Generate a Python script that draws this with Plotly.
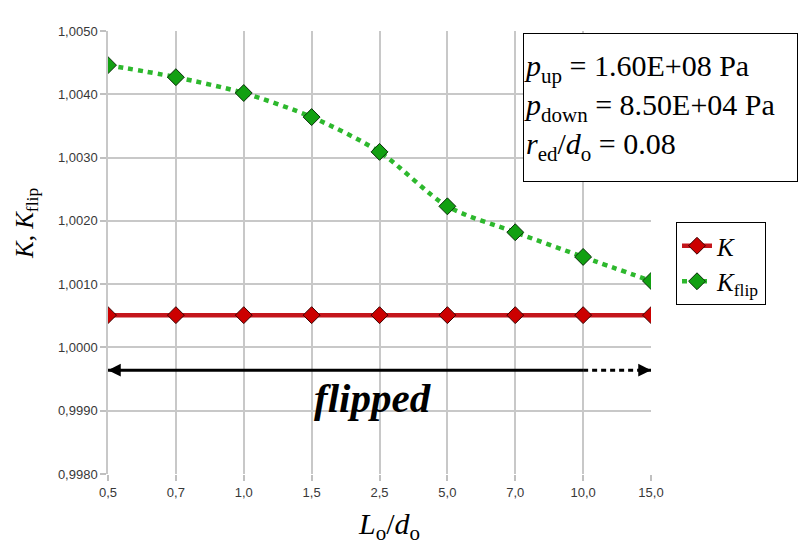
import plotly.graph_objects as go

categories = ["0,5", "0,7", "1,0", "1,5", "2,5", "5,0", "7,0", "10,0", "15,0"]
k_values = [1.00051, 1.00051, 1.00051, 1.00051, 1.00051, 1.00051, 1.00051, 1.00051, 1.00051]
kflip_values = [1.00446, 1.00427, 1.00402, 1.00364, 1.00309, 1.00223, 1.00182, 1.00143, 1.00105]
flipped_level = 0.99964
flipped_solid_x = ["0,5", "10,0"]
flipped_dotted_x = ["10,0", "15,0"]
y_ticks = [0.998, 0.999, 1.000, 1.001, 1.002, 1.003, 1.004, 1.005]

SERIF = "Liberation Serif, Times New Roman, serif"
SANS = "Liberation Sans, Arial, sans-serif"

# page body adds an 8px offset; figure is sized to fit the window
OFF = 8
W, H = 799, 541
L, R, T, B = 100, 156, 23, 75
PW, PH = W - L - R, H - T - B


def px(xr):
    return (xr - OFF - L) / PW


def py(yr):
    return (H - B - (yr - OFF)) / PH


fig = go.Figure()

# flipped arrow body
fig.add_trace(go.Scatter(x=flipped_solid_x, y=[flipped_level] * 2, mode="lines",
                         line=dict(color="black", width=3), showlegend=False, hoverinfo="skip"))
fig.add_trace(go.Scatter(x=flipped_dotted_x, y=[flipped_level] * 2, mode="lines",
                         line=dict(color="black", width=3, dash="5px,4px"), showlegend=False, hoverinfo="skip"))

fig.add_trace(go.Scatter(
    x=categories, y=k_values, mode="lines+markers", name="<i>K</i>",
    line=dict(color="#c4161c", width=4.5),
    marker=dict(symbol="diamond", size=13, color="#cc0000", line=dict(color="#3a0000", width=1)),
))
fig.add_trace(go.Scatter(
    x=categories, y=kflip_values, mode="lines+markers", name="<i>K</i><sub>flip</sub>",
    line=dict(color="#2db82d", width=4.5, dash="5px,5px", shape="spline", smoothing=0.8),
    marker=dict(symbol="diamond", size=13, color="#12a012", line=dict(color="#0a300a", width=1)),
))

annotations = [
    # arrowheads
    dict(x="0,5", y=flipped_level, xref="x", yref="y", ax=14, ay=0, text="",
         showarrow=True, arrowhead=2, arrowwidth=3, arrowsize=0.85, arrowcolor="black", standoff=0),
    dict(x="15,0", y=flipped_level, xref="x", yref="y", ax=-14, ay=0, text="",
         showarrow=True, arrowhead=2, arrowwidth=3, arrowsize=0.85, arrowcolor="black", standoff=0),
    dict(x=px(372), y=0.99920, xref="paper", yref="y", xanchor="center", yanchor="middle",
         showarrow=False,
         text="<b><i>flipped</i></b>", font=dict(family=SERIF, size=41, color="black")),
    dict(x=px(523), y=py(33), xref="paper", yref="paper",
         xanchor="left", yanchor="top", showarrow=False, align="left", valign="middle",
         width=273, height=147, borderpad=0, bordercolor="black", borderwidth=1, bgcolor="white",
         text="<i>p</i><sub>up</sub> = 1.60E+08 Pa<br><i>p</i><sub>down</sub> = 8.50E+04 Pa<br>"
              "<i>r</i><sub>ed</sub>/<i>d</i><sub>o</sub> = 0.08",
         font=dict(family=SERIF, size=30, color="black")),
    dict(x=px(27), y=py(224), xref="paper", yref="paper", xanchor="center", yanchor="middle",
         textangle=-90, showarrow=False,
         text="<i>K</i>, <i>K</i><sub>flip</sub>", font=dict(family=SERIF, size=25, color="black")),
    dict(x=px(389), y=py(526), xref="paper", yref="paper", xanchor="center", yanchor="middle",
         showarrow=False,
         text="<i>L</i><sub>o</sub>/<i>d</i><sub>o</sub>", font=dict(family=SERIF, size=30, color="black")),
]

fig.update_layout(
    width=W, height=H,
    margin=dict(l=L, r=R, t=T, b=B, pad=0),
    paper_bgcolor="white", plot_bgcolor="white",
    separators=", ",
    showlegend=True,
    legend=dict(x=px(676), y=py(222), xanchor="left", yanchor="top",
                bordercolor="black", borderwidth=1, bgcolor="white",
                font=dict(family=SERIF, size=25, color="black"), tracegroupgap=0),
    annotations=annotations,
    shapes=[dict(type="line", xref="paper", yref="paper", x0=px(100), x1=px(807),
                 y0=py(5), y1=py(5), line=dict(color="#d0d0d0", width=1.5))],
)

fig.update_xaxes(type="category", categoryorder="array", categoryarray=categories,
                 range=[0, len(categories) - 1], showgrid=True, gridcolor="#c8c8c8", gridwidth=1.5,
                 ticks="outside", ticklen=6, tickcolor="#c0c0c0", tickwidth=1.5,
                 showline=False, zeroline=False,
                 tickfont=dict(family=SANS, size=13, color="#383838"))
fig.update_yaxes(range=[0.998, 1.005], tickvals=y_ticks, tickformat=".4f",
                 showgrid=True, gridcolor="#c8c8c8", gridwidth=1.5,
                 ticks="outside", ticklen=6, tickcolor="#c0c0c0", tickwidth=1.5,
                 showline=True, linecolor="#c8c8c8", linewidth=1.5, zeroline=False,
                 tickfont=dict(family=SANS, size=13, color="#383838"))

fig.write_html("out.html")
